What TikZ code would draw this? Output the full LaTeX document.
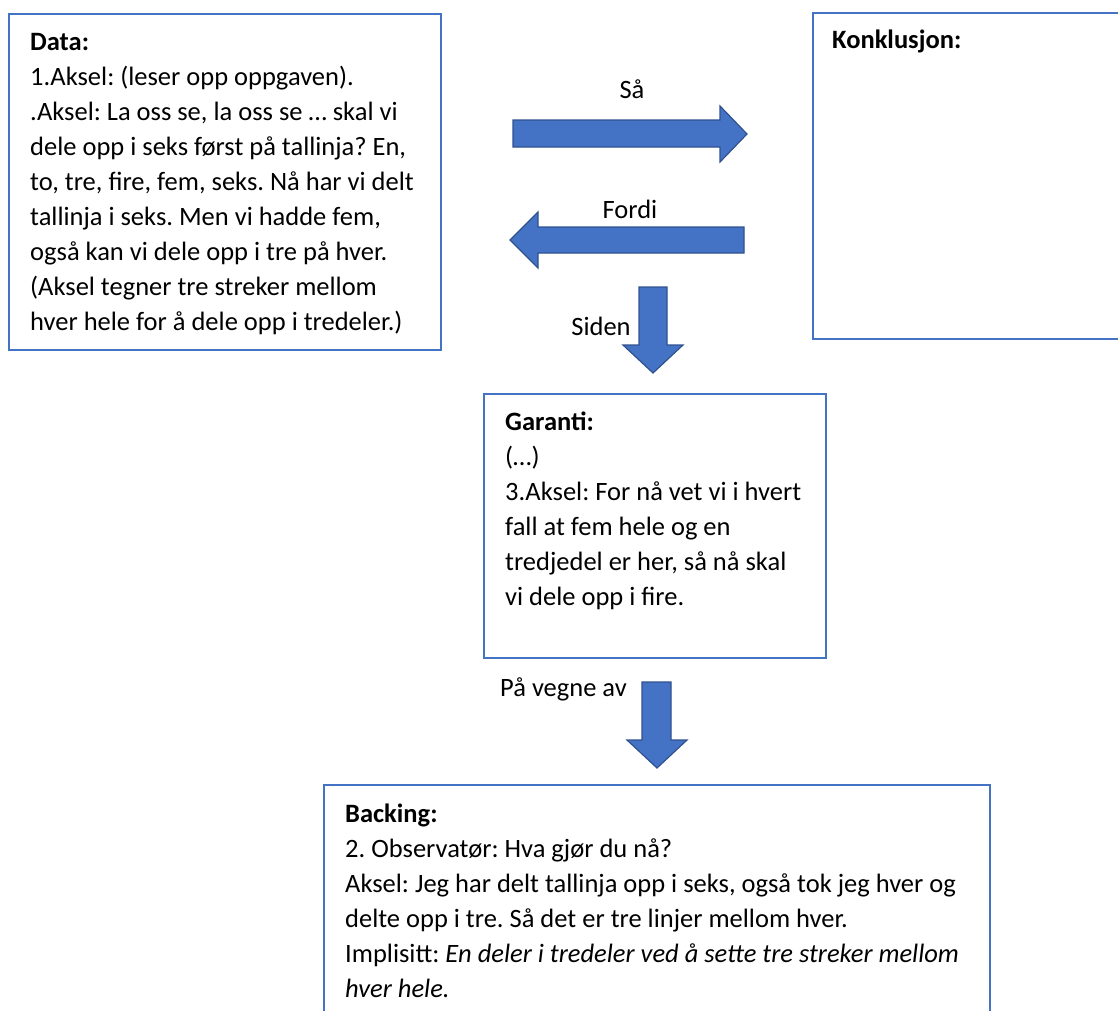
\documentclass[tikz,border=0pt]{standalone}
\usepackage{fontspec}
\setmainfont{Carlito}
\frenchspacing
\definecolor{boxblue}{HTML}{4472C4}
\definecolor{arrowedge}{HTML}{2F528F}
\newcommand{\lines}[1]{\begin{tabular}[t]{@{}l@{}}#1\end{tabular}}
\begin{document}
\begin{tikzpicture}[x=1pt,y=-1pt,
  panel/.style={draw=boxblue, line width=2pt, anchor=north west, inner sep=0pt},
  blockarrow/.style={fill=boxblue, draw=arrowedge, line width=1.2pt, line join=miter},
  body/.style={anchor=base west, inner sep=0pt, font=\fontsize{26.5}{35}\selectfont},
  tag/.style={anchor=base, inner sep=0pt, font=\fontsize{26.5}{35}\selectfont}]
\useasboundingbox (0,0) rectangle (1118,1010);

% frames
\node[panel, minimum width=432pt, minimum height=336pt] (data) at (8,13) {};
\node[panel, minimum width=320pt, minimum height=326pt] (konk) at (812,12) {};
\node[panel, minimum width=342pt, minimum height=264pt] (garanti) at (483,393) {};
\node[panel, minimum width=666pt, minimum height=260pt] (backing) at (323,784) {};

% box texts
\node[body] (datatext) at (30,50) {\lines{\textbf{Data:}\\
1.Aksel: (leser opp oppgaven).\\
.Aksel: La oss se, la oss se … skal vi\\
dele opp i seks først på tallinja? En,\\
to, tre, fire, fem, seks. Nå har vi delt\\
tallinja i seks. Men vi hadde fem,\\
også kan vi dele opp i tre på hver.\\
(Aksel tegner tre streker mellom\\
hver hele for å dele opp i tredeler.)}};

\node[body] (konktext) at (832,48) {\textbf{Konklusjon:}};

\node[body] (garantitext) at (505,430) {\lines{\textbf{Garanti:}\\
(…)\\
3.Aksel: For nå vet vi i hvert\\
fall at fem hele og en\\
tredjedel er her, så nå skal\\
vi dele opp i fire.}};

\node[body] (backingtext) at (345,822) {\lines{\textbf{Backing:}\\
2. Observatør: Hva gjør du nå?\\
Aksel: Jeg har delt tallinja opp i seks, også tok jeg hver og\\
delte opp i tre. Så det er tre linjer mellom hver.\\
Implisitt: \textit{En deler i tredeler ved å sette tre streker mellom}\\
\textit{hver hele.}}};

% block arrows
\draw[blockarrow] (513,120) -- (720,120) -- (720,106) -- (747,134) -- (720,162) -- (720,147) -- (513,147) -- cycle;
\draw[blockarrow] (744,227) -- (538,227) -- (538,212) -- (510,240) -- (538,268) -- (538,253) -- (744,253) -- cycle;
\draw[blockarrow] (639,287) -- (667,287) -- (667,345) -- (683,345) -- (653,373) -- (623,345) -- (639,345) -- cycle;
\draw[blockarrow] (642,682) -- (671,682) -- (671,740) -- (687,740) -- (657,768) -- (627,740) -- (642,740) -- cycle;

% arrow labels
\node[tag] (saa) at (632,98) {Så};
\node[tag] (fordi) at (630,218) {Fordi};
\node[tag] (siden) at (601,335) {Siden};
\node[body] (vegne) at (500,696) {På vegne av};
\end{tikzpicture}
\end{document}
